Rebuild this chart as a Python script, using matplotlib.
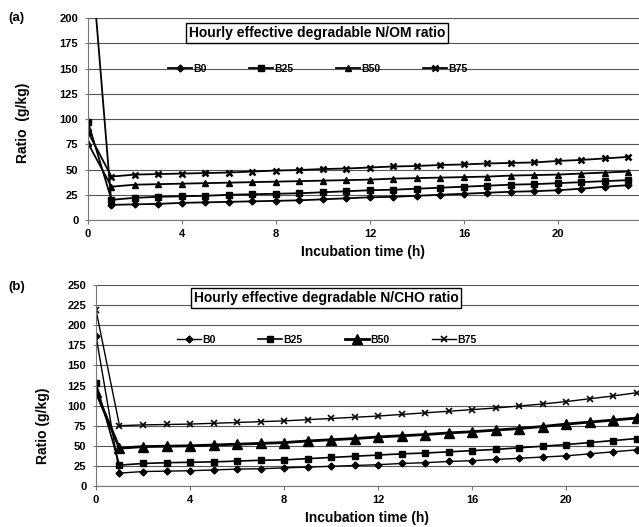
import matplotlib
matplotlib.use("Agg")
import matplotlib.pyplot as plt

plt.rcParams['font.family'] = ['Liberation Sans', 'DejaVu Sans']
plt.rcParams['font.weight'] = 'bold'

hours = list(range(24))
series = ['B0', 'B25', 'B50', 'B75']

# panel (a): hourly effective degradable N/OM ratio (g/kg)
om_b0 = [300, 15, 15.5, 16, 17, 17.5, 18, 18.5, 19, 19.5, 20.5, 21.5, 22.5, 23, 24, 25, 26, 27, 28, 28.5, 29.5, 31, 33, 34.5]
om_b25 = [97, 20, 22, 23, 23.5, 24, 25, 25.5, 26, 26.5, 27.5, 28.5, 29.5, 30, 31, 32, 33, 34, 35, 35.5, 36.5, 37.5, 38.5, 39.5]
om_b50 = [76, 33, 35, 35.5, 36, 36.5, 37, 37.5, 38, 38.5, 39, 39.5, 40, 41, 41.5, 42, 42.5, 43, 44, 44.5, 45, 46, 47, 48]
om_b75 = [87, 43, 45, 45.5, 46, 46.5, 47, 48, 49, 49.5, 50.5, 51, 52, 53, 53.5, 54.5, 55, 56, 56.5, 57, 58.5, 59.5, 61, 62.5]

# panel (b): hourly effective degradable N/CHO ratio (g/kg)
cho_b0 = [187, 16, 18, 18.5, 19, 20, 21, 21.5, 22.5, 23.5, 24.5, 25.5, 26.5, 28, 29, 30.5, 31.5, 33, 34.5, 36, 37.5, 40, 42.5, 45]
cho_b25 = [128, 26, 28, 29, 29.5, 30, 31, 32, 32.5, 34, 35.5, 37, 38.5, 40, 41, 42.5, 44, 45.5, 47.5, 49.5, 51.5, 54, 56.5, 59]
cho_b50 = [117, 47, 49, 49.5, 50, 51, 52, 53, 54, 56, 57.5, 59, 61, 62.5, 64, 66, 67.5, 69.5, 71.5, 74, 77, 79.5, 82, 84.5]
cho_b75 = [219, 75, 76, 76.5, 77, 78, 79, 80, 81, 82.5, 84, 85.5, 87, 89, 91, 93, 95, 97, 99.5, 102, 105, 108.5, 112, 116]

fig = plt.figure(figsize=(6.39, 5.27), dpi=100)
ax1 = fig.add_axes([0.1377, 0.5825, 0.8623, 0.3833])
ax2 = fig.add_axes([0.1502, 0.0778, 0.8498, 0.3814])


def style_axis(ax, ymax, xmax):
    ax.set_xlim(0, xmax)
    ax.set_ylim(0, ymax)
    ax.set_yticks(range(0, ymax + 1, 25))
    ax.set_xticks([0, 4, 8, 12, 16, 20])
    ax.yaxis.grid(True, color='#555555', lw=0.8)
    ax.set_axisbelow(True)
    for s in ['top', 'right']:
        ax.spines[s].set_visible(False)
    ax.spines['bottom'].set_color('#777777')
    ax.spines['left'].set_color('#777777')
    ax.tick_params(axis='both', labelsize=8, length=3, color='#777777')
    ax.tick_params(axis='y', length=2, pad=5)
    ax.set_xlabel('Incubation time (h)', fontsize=10, fontweight='bold', labelpad=4)


# panel (a)
ax1.plot(hours, om_b0, '-', color='black', lw=1.3, marker='D', ms=3.5, label='B0')
ax1.plot(hours, om_b25, '-', color='black', lw=1.3, marker='s', ms=4.5, label='B25')
ax1.plot(hours, om_b50, '-', color='black', lw=1.3, marker='^', ms=4.5, label='B50')
ax1.plot(hours, om_b75, '-', color='black', lw=1.3, marker='x', ms=5, mew=1.8, label='B75')
style_axis(ax1, 200, 23.45)
ax1.set_ylabel('Ratio  (g/kg)', fontsize=10, fontweight='bold')
ax1.yaxis.set_label_coords(-0.105, 0.48)
ax1.text(0.416, 0.926, 'Hourly effective degradable N/OM ratio', transform=ax1.transAxes,
         ha='center', va='center', fontsize=10, fontweight='bold',
         bbox=dict(boxstyle='square,pad=0.2', fc='white', ec='black', lw=1))
ax1.legend(loc='center', bbox_to_anchor=(0.417, 0.75), ncol=4, frameon=False,
           fontsize=7.5, handlelength=2.3, columnspacing=4.1, handletextpad=0.1)
fig.text(0.013, 0.966, '(a)', fontsize=9.5, fontweight='bold', va='center')

# panel (b)
ax2.plot(hours, cho_b0, '-', color='black', lw=1.0, marker='D', ms=3.5, label='B0')
ax2.plot(hours, cho_b25, '-', color='black', lw=1.2, marker='s', ms=4.5, label='B25')
ax2.plot(hours, cho_b50, '-', color='black', lw=2.0, marker='^', ms=7, label='B50')
ax2.plot(hours, cho_b75, '-', color='black', lw=1.0, marker='x', ms=5, mew=1.2, label='B75')
style_axis(ax2, 250, 23.1)
ax2.set_ylabel('Ratio (g/kg)', fontsize=10, fontweight='bold')
ax2.yaxis.set_label_coords(-0.085, 0.30)
ax2.text(0.424, 0.935, 'Hourly effective degradable N/CHO ratio', transform=ax2.transAxes,
         ha='center', va='center', fontsize=10, fontweight='bold',
         bbox=dict(boxstyle='square,pad=0.2', fc='white', ec='black', lw=1))
ax2.legend(loc='center', bbox_to_anchor=(0.425, 0.726), ncol=4, frameon=False,
           fontsize=7.5, handlelength=2.3, columnspacing=4.1, handletextpad=0.1)
fig.text(0.013, 0.455, '(b)', fontsize=9.5, fontweight='bold', va='center')

fig.savefig('out.png', dpi=100)
